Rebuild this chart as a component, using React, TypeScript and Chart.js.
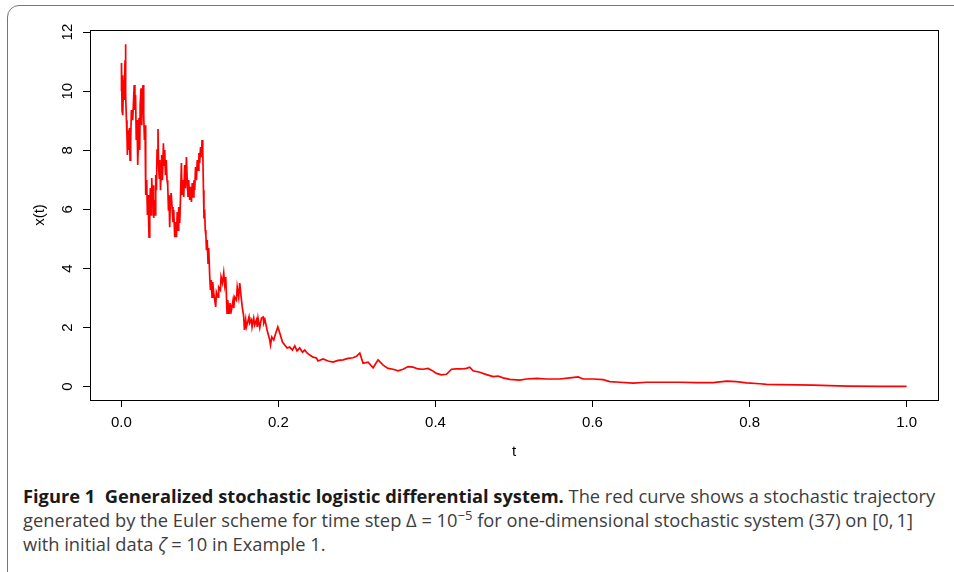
import React, { useEffect, useRef } from "react";
import { Chart, registerables } from "chart.js";

Chart.register(...registerables);

const T_VALUES = [0.0000,0.0001,0.0008,0.0013,0.0020,0.0029,0.0036,0.0046,0.0051,0.0057,0.0064,0.0071,0.0076,0.0084,0.0093,0.0102,0.0110,0.0118,0.0127,0.0144,0.0163,0.0172,0.0180,0.0189,0.0199,0.0208,0.0217,0.0224,0.0233,0.0239,0.0250,0.0259,0.0265,0.0275,0.0284,0.0293,0.0301,0.0306,0.0313,0.0322,0.0331,0.0339,0.0348,0.0352,0.0361,0.0369,0.0377,0.0386,0.0395,0.0403,0.0411,0.0420,0.0428,0.0437,0.0446,0.0454,0.0466,0.0473,0.0482,0.0490,0.0498,0.0507,0.0513,0.0522,0.0535,0.0543,0.0552,0.0561,0.0571,0.0581,0.0590,0.0599,0.0606,0.0615,0.0624,0.0634,0.0645,0.0657,0.0666,0.0679,0.0689,0.0701,0.0711,0.0721,0.0730,0.0743,0.0753,0.0764,0.0772,0.0785,0.0794,0.0806,0.0817,0.0828,0.0838,0.0848,0.0857,0.0870,0.0880,0.0892,0.0902,0.0912,0.0924,0.0934,0.0944,0.0955,0.0966,0.0976,0.0987,0.0997,0.1008,0.1019,0.1027,0.1036,0.1045,0.1051,0.1061,0.1068,0.1076,0.1083,0.1093,0.1103,0.1112,0.1125,0.1134,0.1144,0.1154,0.1163,0.1176,0.1189,0.1201,0.1210,0.1231,0.1239,0.1261,0.1269,0.1287,0.1303,0.1316,0.1329,0.1345,0.1354,0.1371,0.1383,0.1401,0.1422,0.1431,0.1443,0.1465,0.1475,0.1494,0.1507,0.1529,0.1539,0.1558,0.1567,0.1583,0.1592,0.1625,0.1634,0.1656,0.1664,0.1685,0.1698,0.1720,0.1730,0.1740,0.1762,0.1783,0.1804,0.1813,0.1829,0.1855,0.1889,0.1899,0.1915,0.1940,0.1966,0.1992,0.2017,0.2051,0.2080,0.2110,0.2144,0.2178,0.2208,0.2237,0.2271,0.2306,0.2335,0.2364,0.2399,0.2441,0.2484,0.2504,0.2568,0.2632,0.2695,0.2759,0.2823,0.2887,0.2950,0.2994,0.3036,0.3078,0.3141,0.3205,0.3269,0.3333,0.3396,0.3460,0.3524,0.3587,0.3651,0.3715,0.3778,0.3842,0.3906,0.3949,0.4013,0.4076,0.4140,0.4204,0.4268,0.4331,0.4395,0.4437,0.4479,0.4564,0.4650,0.4734,0.4797,0.4861,0.4946,0.5074,0.5159,0.5287,0.5414,0.5583,0.5711,0.5817,0.5880,0.6008,0.6135,0.6220,0.6348,0.6517,0.6688,0.6899,0.7112,0.7325,0.7536,0.7707,0.7834,0.7962,0.8131,0.8217,0.8386,0.8810,0.9236,0.9660,1.0000];

const X_VALUES = [10.00,10.95,9.36,10.54,9.19,10.38,9.70,11.05,11.59,9.87,9.02,8.51,7.84,8.68,8.01,8.75,7.67,8.28,9.36,9.02,10.21,9.36,9.87,8.35,9.02,7.50,8.35,9.09,8.01,9.53,10.10,8.85,9.70,10.21,9.19,8.35,8.85,7.16,6.49,6.99,5.81,6.49,5.47,5.06,5.98,6.72,5.81,7.06,6.32,6.82,5.71,6.32,5.81,7.16,6.65,8.01,8.72,7.50,7.06,7.67,6.65,7.40,7.84,6.99,8.24,7.50,8.01,7.16,7.67,6.99,6.82,5.98,6.49,5.40,6.32,6.55,6.08,5.57,5.98,5.06,5.57,5.06,5.91,5.30,6.08,5.54,6.42,7.57,6.49,6.99,6.42,7.50,6.72,7.77,6.99,6.42,6.99,6.32,6.76,6.25,6.89,6.42,6.99,6.65,7.43,6.99,7.67,7.33,7.91,7.57,8.11,7.77,8.35,8.01,6.65,5.81,5.88,5.30,5.13,4.62,4.96,4.18,4.69,3.71,3.27,3.61,3.03,3.54,3.17,2.93,2.70,3.20,3.03,3.37,3.27,3.71,3.51,3.85,3.44,3.71,2.49,2.93,2.49,2.83,2.59,2.93,2.66,3.03,2.93,3.37,3.03,3.51,2.93,2.70,2.36,1.92,2.26,2.02,2.36,2.15,2.26,2.02,2.32,2.09,2.26,2.02,2.32,1.99,2.32,2.36,2.15,2.26,1.92,1.58,1.41,1.68,1.58,1.82,2.02,1.82,1.51,1.41,1.31,1.34,1.24,1.38,1.21,1.31,1.17,1.24,1.14,1.07,1.00,0.97,0.87,0.94,0.87,0.83,0.89,0.91,0.96,0.98,1.03,1.14,0.79,0.83,0.64,0.91,0.73,0.62,0.59,0.54,0.59,0.68,0.66,0.60,0.59,0.62,0.56,0.45,0.40,0.42,0.59,0.60,0.60,0.62,0.66,0.54,0.49,0.41,0.34,0.36,0.30,0.25,0.22,0.26,0.28,0.26,0.26,0.30,0.33,0.26,0.26,0.24,0.17,0.15,0.12,0.15,0.15,0.15,0.14,0.14,0.19,0.17,0.13,0.10,0.08,0.07,0.05,0.02,0.01,0.01];

const X_TICKS = [0, 0.2, 0.4, 0.6, 0.8, 1.0];
const Y_TICKS = [0, 2, 4, 6, 8, 10, 12];
const X_TITLE = "t";
const Y_TITLE = "x(t)";

const AXIS_FONT = { family: "'Liberation Sans', Arial, Helvetica, sans-serif", size: 15 };

const boxPlugin = {
  id: "plotBox",
  afterDraw(chart: any) {
    const { ctx, chartArea } = chart;
    ctx.save();
    ctx.strokeStyle = "#000";
    ctx.lineWidth = 1;
    const l = Math.round(chartArea.left) + 0.5;
    const t = Math.round(chartArea.top) + 0.5;
    const r = Math.round(chartArea.right) + 0.5;
    const b = Math.round(chartArea.bottom) + 0.5;
    ctx.strokeRect(l, t, r - l, b - t);
    ctx.restore();
  },
};

function ChartView() {
  const ref = useRef<HTMLCanvasElement | null>(null);
  useEffect(() => {
    if (!ref.current) return;
    const n = Math.min(T_VALUES.length, X_VALUES.length);
    const pts = [];
    for (let i = 0; i < n; i++) pts.push({ x: T_VALUES[i], y: X_VALUES[i] });
    const chart = new Chart(ref.current, {
      type: "line",
      data: {
        datasets: [
          {
            data: pts,
            borderColor: "#ff0000",
            borderWidth: 1.7,
            pointRadius: 0,
            tension: 0,
            fill: false,
          },
        ],
      },
      options: {
        animation: false,
        responsive: false,
        devicePixelRatio: 1,
        layout: { padding: { left: 0, right: 16, top: 30, bottom: 0 } },
        plugins: { legend: { display: false }, tooltip: { enabled: false } },
        scales: {
          x: {
            type: "linear",
            min: -0.04,
            max: 1.04,
            afterBuildTicks: (s: any) => {
              s.ticks = X_TICKS.map((v) => ({ value: v }));
            },
            afterFit: (s: any) => {
              s.height = 70;
            },
            grid: { drawOnChartArea: false, drawTicks: true, tickLength: 7, color: "#000", lineWidth: 1 },
            border: { display: false },
            ticks: {
              color: "#000",
              font: AXIS_FONT,
              padding: 7,
              maxRotation: 0,
              autoSkip: false,
              callback: (v: any) => Number(v).toFixed(1),
            },
            title: { display: true, text: X_TITLE, color: "#000", font: AXIS_FONT, padding: { top: 0, bottom: 9 } },
          },
          y: {
            type: "linear",
            min: -0.45,
            max: 12.07,
            afterBuildTicks: (s: any) => {
              s.ticks = Y_TICKS.map((v) => ({ value: v }));
            },
            afterFit: (s: any) => {
              s.width = 90;
            },
            grid: { drawOnChartArea: false, drawTicks: true, tickLength: 7, color: "#000", lineWidth: 1 },
            border: { display: false },
            ticks: {
              color: "#000",
              font: AXIS_FONT,
              padding: 7,
              minRotation: 90,
              maxRotation: 90,
              crossAlign: "center",
              autoSkip: false,
              callback: (v: any) => String(v),
            },
            title: { display: true, text: Y_TITLE, color: "#000", font: AXIS_FONT, padding: { top: 31, bottom: 0 } },
          },
        },
      },
      plugins: [boxPlugin],
    });
    return () => chart.destroy();
  }, []);
  return (
    <canvas
      ref={ref}
      width={954}
      height={470}
      style={{ position: "absolute", left: 0, top: 0, width: 954, height: 470, display: "block" }}
    />
  );
}

export default function App() {
  return (
    <div style={{ position: "absolute", left: 0, top: 0, width: 954, height: 572, overflow: "hidden", background: "#fff" }}>
      <div
        style={{
          position: "absolute",
          left: 7,
          top: 5,
          width: 1000,
          height: 1000,
          border: "1.5px solid #777",
          borderTopLeftRadius: 12,
          boxSizing: "border-box",
        }}
      />
      <ChartView />
      <div
        style={{
          position: "absolute",
          left: 23,
          top: 484,
          fontFamily: "'Open Sans', 'Noto Sans', sans-serif",
          fontSize: 18.3,
          lineHeight: "24px",
          color: "#3d3d3d",
          whiteSpace: "nowrap",
        }}
      >
        <span style={{ fontWeight: 700, color: "#1a1a1a" }}>Figure 1&nbsp;&nbsp;Generalized stochastic logistic differential system.</span>{" "}
        The red curve shows a stochastic trajectory
        <br />
        generated by the Euler scheme for time step Δ = 10<sup style={{ fontSize: 13, lineHeight: 0 }}>−5</sup> for one-dimensional stochastic system (37) on [0,&thinsp;1]
        <br />
        with initial data <i>ζ</i> = 10 in Example 1.
      </div>
    </div>
  );
}
